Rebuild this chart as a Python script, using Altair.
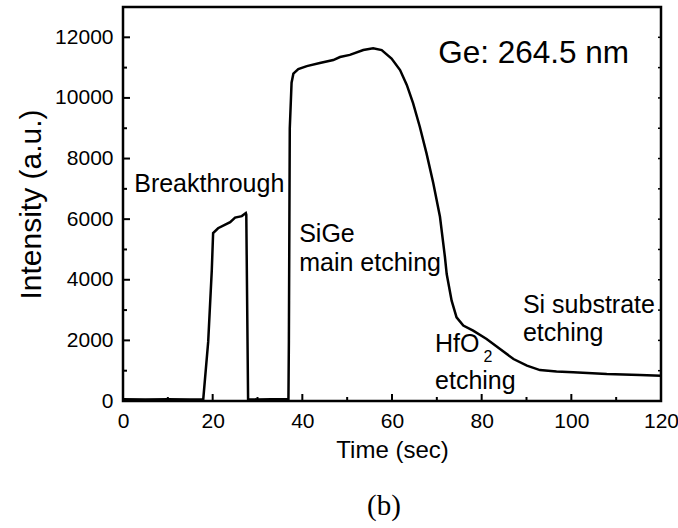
import altair as alt
import pandas as pd

# Optical emission intensity of the Ge line during the etch sequence
time_s = [0, 5, 10, 15, 17.9, 19.0, 19.8, 20.1, 21.2, 23.9, 25.0, 26.5, 27.4,
          27.5, 27.9, 30, 33, 36.9, 37.0, 37.2, 37.6, 38.0, 39.1, 41.0, 43.9,
          46.9, 48.4, 50.6, 53.6, 55.8, 57.7, 59.9, 61.8, 63.3, 64.7, 66.2,
          67.7, 69.2, 70.7, 71.8, 72.2, 73.3, 74.4, 75.9, 78.1, 81.1, 84.1,
          87.1, 90.1, 93.0, 96.7, 100.4, 107.9, 115.3, 120]
intensity = [60, 50, 60, 50, 60, 1950, 4300, 5540, 5700, 5900, 6050, 6100, 6200,
             6150, 60, 50, 60, 60, 2000, 9000, 10500, 10800, 10950, 11050, 11150,
             11250, 11350, 11420, 11580, 11640, 11580, 11300, 10920, 10430, 9830,
             9050, 8170, 7190, 6080, 4760, 4190, 3310, 2760, 2490, 2320, 2045,
             1715, 1385, 1165, 1020, 970, 950, 890, 860, 835]

# Axis tick positions
x_major = [0, 20, 40, 60, 80, 100, 120]
x_minor = [10, 30, 50, 70, 90, 110]
y_major = [0, 2000, 4000, 6000, 8000, 10000, 12000]
y_minor = [1000, 3000, 5000, 7000, 9000, 11000]

# Annotations (left edge time, baseline intensity)
note_text = ["Breakthrough", "SiGe", "main etching", "Si substrate", "etching",
             "HfO", "etching"]
note_t = [2.5, 39.3, 39.3, 89.2, 89.2, 69.6, 69.6]
note_i = [6900, 5250, 4290, 2900, 1980, 1630, 400]
title_text = "Ge: 264.5 nm"
title_t, title_i = 70.3, 11150
sub_text, sub_t, sub_i = "2", 80.4, 1300

W, H = 538, 394
FONT = "Liberation Sans"

xs = alt.Scale(domain=[0, 120], nice=False)
ys = alt.Scale(domain=[0, 13000], nice=False)

df = pd.DataFrame({"t": time_s, "v": intensity})

x_axis = alt.Axis(values=x_major, grid=False, domain=False, ticks=False,
                  tickSize=0, labelPadding=9, labelFontSize=21, labelFont=FONT,
                  labelColor="black", labelFlush=False, labelOverlap=False,
                  title="Time (sec)", titleFont=FONT, titleFontSize=24,
                  titleFontWeight="normal", titleColor="black", titlePadding=7)
y_axis = alt.Axis(values=y_major, grid=False, domain=False, ticks=False,
                  tickSize=0, labelPadding=10, labelFontSize=21, labelFont=FONT,
                  labelColor="black", labelOverlap=False, format="d",
                  title="Intensity (a.u.)", titleFont=FONT, titleFontSize=30,
                  titleFontWeight="normal", titleColor="black", titlePadding=8)

curve = alt.Chart(df).mark_line(color="black", strokeWidth=2.5).encode(
    x=alt.X("t:Q", scale=xs, axis=x_axis),
    y=alt.Y("v:Q", scale=ys, axis=y_axis),
)

def xticks(vals, length):
    return alt.Chart(pd.DataFrame({"t": vals})).mark_rule(
        color="black", strokeWidth=2).encode(
        x=alt.X("t:Q", scale=xs), y=alt.value(H), y2=alt.value(H - length))

def lticks(vals, length):
    return alt.Chart(pd.DataFrame({"v": vals})).mark_rule(
        color="black", strokeWidth=2).encode(
        y=alt.Y("v:Q", scale=ys), x=alt.value(0), x2=alt.value(length))

def rticks(vals, length):
    return alt.Chart(pd.DataFrame({"v": vals})).mark_rule(
        color="black", strokeWidth=1.5).encode(
        y=alt.Y("v:Q", scale=ys), x=alt.value(W), x2=alt.value(W - length))

notes = alt.Chart(pd.DataFrame({"t": note_t, "v": note_i, "s": note_text})).mark_text(
    align="left", baseline="alphabetic", font=FONT, fontSize=25, color="black"
).encode(x=alt.X("t:Q", scale=xs), y=alt.Y("v:Q", scale=ys), text="s:N")

big_note = alt.Chart(pd.DataFrame({"t": [title_t], "v": [title_i], "s": [title_text]})).mark_text(
    align="left", baseline="alphabetic", font=FONT, fontSize=31.5, color="black"
).encode(x=alt.X("t:Q", scale=xs), y=alt.Y("v:Q", scale=ys), text="s:N")

sub_note = alt.Chart(pd.DataFrame({"t": [sub_t], "v": [sub_i], "s": [sub_text]})).mark_text(
    align="left", baseline="alphabetic", font=FONT, fontSize=16, color="black"
).encode(x=alt.X("t:Q", scale=xs), y=alt.Y("v:Q", scale=ys), text="s:N")

chart = alt.layer(
    xticks(x_major, 7), xticks(x_minor, 4),
    lticks(y_major, 7), lticks(y_minor, 4),
    rticks(y_major, 3), rticks(y_minor, 3),
    curve, notes, big_note, sub_note,
).properties(
    width=W, height=H,
    background="white",
    autosize=alt.AutoSizeParams(type="none"),
    padding={"left": 123, "top": 7, "right": 17, "bottom": 127},
    title=alt.TitleParams("(b)", orient="bottom", anchor="middle",
                          font="Liberation Serif", fontSize=29,
                          fontWeight="normal", color="black", offset=30, dx=-8),
).configure_view(
    stroke="black", strokeWidth=2.5
)

chart.save("out.html", embed_options={"renderer": "svg", "actions": False})
